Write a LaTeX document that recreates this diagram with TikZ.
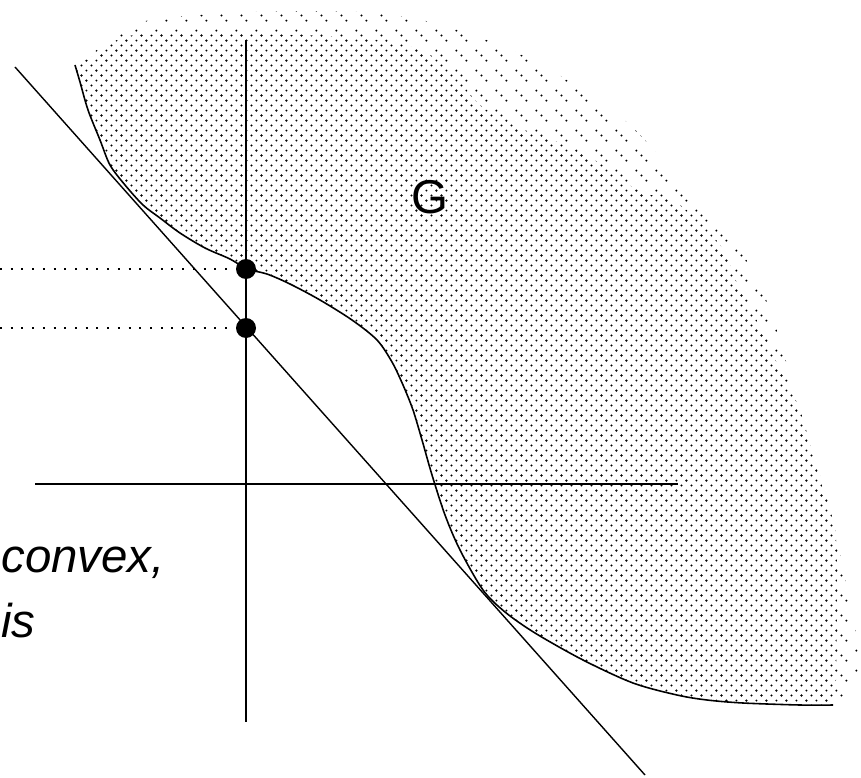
\documentclass[tikz,border=0pt]{standalone}
\usepackage{fontspec}
\setmainfont{Liberation Sans}
\usepackage{tikz}
\usetikzlibrary{patterns.meta}

\tikzdeclarepattern{
  name=stipple,
  bounding box={(0pt,0pt) and (5.6693pt,5.6693pt)},
  tile size={(5.6693pt,5.6693pt)},
  code={
    \fill (1.4173pt,1.4173pt) circle (0.62pt);
    \fill (4.2520pt,4.2520pt) circle (0.62pt);
  }
}
\tikzdeclarepattern{
  name=sparse,
  bounding box={(0pt,0pt) and (11.3386pt,11.3386pt)},
  tile size={(11.3386pt,11.3386pt)},
  code={
    \fill (1.4173pt,1.4173pt) circle (0.62pt);
    \fill (9.9213pt,4.2520pt) circle (0.62pt);
    \fill (4.2520pt,9.9213pt) circle (0.62pt);
  }
}

\begin{document}
\begin{tikzpicture}[
  x=0.02cm, y=-0.02cm,
  axis/.style={line width=0.9pt},
  tangent/.style={line width=0.8pt},
  rim/.style={line width=0.9pt},
  guide/.style={line width=1pt, dash pattern=on 1.1pt off 5pt},
  pt/.style={circle, fill, inner sep=0pt, minimum size=0.4cm},
  lbl/.style={font=\fontsize{27}{32}\selectfont\itshape, inner sep=0pt, anchor=base west}]

\useasboundingbox (0,0) rectangle (861,777);

\def\gedge{plot[smooth, tension=0.5] coordinates {(75,65) (80,82) (88,110) (100,140) (110,165) (125,185) (143,205) (160,218) (180,233) (205,248) (230,259) (247,269) (267,274) (290,284) (320,300) (352,320) (377,340) (392,362) (403,385) (413,410) (422,440) (432,475) (445,515) (460,550) (483,590) (505,612) (535,633) (583,660) (633,683) (677,695) (707,700) (743,703) (800,705) (833,705)}}

% ragged outer fringe, then the dense body
\fill[pattern=sparse] \gedge -- plot[smooth, tension=0.5] coordinates {(860,680) (860,655) (848,593) (828,500) (800,420) (783,350) (763,292) (740,250) (700,200) (663,160) (630,125) (590,95) (550,70) (500,45) (430,22) (360,12) (250,12) (150,20) (110,40) (85,60)} -- cycle;
\fill[pattern=stipple] \gedge -- plot[smooth, tension=0.5] coordinates {(836,680) (837,600) (835,530) (817,470) (800,410) (780,370) (762,330) (740,290) (720,245) (680,205) (637,190) (603,165) (560,143) (520,128) (480,105) (455,75) (425,52) (380,40) (300,35) (200,34) (128,36) (100,52) (82,63)} -- cycle;

\coordinate (vtop) at (246,40);
\coordinate (vbot) at (246,722);
\coordinate (hleft) at (35,484);
\coordinate (hright) at (678,484);
\coordinate (tstart) at (15,67);
\coordinate (tend) at (645,775);
\coordinate (ga) at (0,269);
\coordinate (gb) at (0,328);

\draw[axis] (vtop) -- (vbot);
\draw[axis] (hleft) -- (hright);
\draw[tangent] (tstart) -- (tend);
\draw[rim] \gedge;

\node[pt] (upper) at (246,269) {};
\node[pt] (lower) at (246,328) {};
\draw[guide] (ga) -- (upper);
\draw[guide] (gb) -- (lower);

\node[font=\fontsize{27}{32}\selectfont, inner sep=0pt, anchor=base] (glabel) at (430,213) {G};
\node[lbl] (convex) at (1,572) {convex,};
\node[lbl] (is) at (1,637) {is};
\end{tikzpicture}
\end{document}
